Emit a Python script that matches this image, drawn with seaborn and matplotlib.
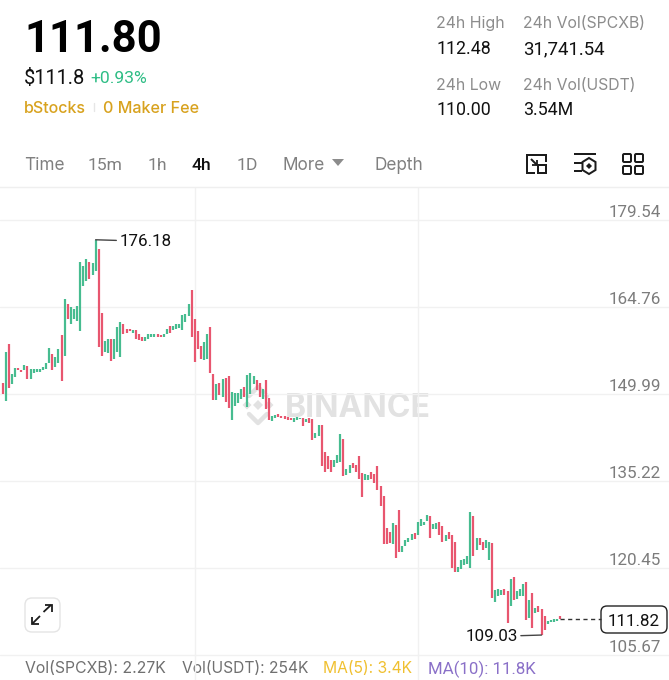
import matplotlib
matplotlib.use("Agg")
import matplotlib.pyplot as plt
from matplotlib.patches import FancyBboxPatch, Polygon, Rectangle
from matplotlib.transforms import ScaledTranslation
import numpy as np
import pandas as pd
import seaborn as sns

sns.set_theme(style="white")
plt.rcParams["font.family"] = ["Inter", "DejaVu Sans"]

# (open, close) prices
opens = [151.8,148.8,158.4,151.7,152.8,154.4,154.1,154.0,154.7,152.6,153.5,153.7,153.8,154.0,154.2,155.2,156.7,154.6,155.3,160.0,
         156.4,165.3,161.9,162.8,162.3,160.6,168.4,169.1,172.4,170.2,170.9,174.6,163.8,157.1,157.0,159.3,155.9,157.1,156.2,161.9,
         161.1,161.1,160.4,160.8,160.1,159.7,159.0,159.3,159.6,159.7,160.1,160.0,159.7,160.1,161.5,160.9,161.1,161.2,160.9,162.2,
         163.2,167.7,162.7,160.6,158.1,155.8,155.9,161.3,153.3,149.0,151.9,149.5,152.7,153.0,145.5,148.0,148.5,149.1,151.1,147.8,
         150.0,151.6,152.3,151.8,149.1,152.4,149.3,145.4,145.9,146.5,146.3,146.3,146.1,145.9,145.2,145.6,145.7,145.9,145.2,145.9,
         145.7,142.5,142.8,144.7,140.2,139.4,138.8,137.5,138.3,138.5,142.4,136.2,136.6,138.2,137.9,139.5,136.5,135.3,135.3,136.8,
         136.4,137.7,134.4,132.7,127.2,126.6,124.5,127.8,130.3,123.2,124.2,124.8,125.2,126.3,126.1,127.6,127.8,128.4,129.2,127.0,
         127.0,128.3,127.6,125.0,126.5,126.0,124.9,119.8,120.3,121.0,121.1,120.4,129.2,123.5,125.5,124.8,123.9,121.7,124.6,114.6,
         115.7,115.9,116.8,116.5,114.0,118.9,115.2,115.7,115.7,118.0,111.9,116.2,112.8,113.9,113.5,112.2,110.9,111.2,111.3,111.4,
         112.2]
closes = [149.9,157.1,151.0,153.3,154.4,154.0,153.7,154.9,152.6,154.2,154.2,154.3,154.3,154.6,155.2,157.8,154.0,156.2,157.6,152.2,
          166.1,162.8,164.8,164.4,165.0,172.4,171.8,172.9,169.5,172.2,176.18,157.9,156.4,159.0,159.3,155.6,159.4,161.4,162.2,160.1,
          160.3,160.6,160.8,159.3,159.2,159.0,159.6,160.2,160.1,160.1,159.7,159.7,160.2,161.1,160.3,161.6,161.8,161.8,163.4,163.6,
          165.3,159.6,155.4,157.7,155.9,158.8,160.1,153.5,149.0,151.6,149.8,152.5,148.6,147.6,150.3,150.1,150.2,150.8,149.5,153.2,
          153.5,153.0,150.6,149.5,150.8,147.4,145.6,146.3,146.4,146.0,145.9,145.7,145.6,145.5,145.9,146.0,145.9,144.5,145.8,145.1,
          142.2,143.3,144.7,137.7,136.8,137.2,136.8,138.8,139.7,143.2,136.1,137.2,138.0,137.4,136.8,135.6,132.4,136.4,136.2,135.6,
          134.8,133.7,130.9,124.5,124.5,124.6,128.0,122.1,123.1,124.2,125.2,125.6,126.2,125.4,128.3,128.7,128.3,129.5,125.6,127.9,
          128.0,126.1,124.9,126.1,125.3,120.4,119.8,120.6,121.7,122.0,122.4,129.9,122.4,125.5,124.4,123.5,125.1,124.8,115.3,116.7,
          116.8,116.7,115.8,111.1,118.5,114.9,116.5,116.8,117.7,111.6,114.9,110.3,113.7,113.0,109.03,109.9,111.5,111.6,111.7,111.8,
          111.82]
price_ticks = [179.54, 164.76, 149.99, 135.22, 120.45, 105.67]
time_grid = [62, 134]
high_label = 176.18
low_label = 109.03
last_price = 111.82
tabs = ["Time", "15m", "1h", "4h", "1D", "More", "Depth"]

W, H = 669, 680
GREEN, RED = "#47BC90", "#E8566F"
px = 0.72  # points per pixel at dpi 100
NUM = ["Roboto", "DejaVu Sans"]

fig = plt.figure(figsize=(W / 100, H / 100), dpi=100, facecolor="white")

# ---------- page furniture, in screen pixels ----------
ui = fig.add_axes([0, 0, 1, 1], zorder=0)
ui.set_xlim(0, W)
ui.set_ylim(H, 0)
ui.axis("off")

def label(x, y, s, size, color="#111111", weight="normal", ha="left", family=None):
    ui.text(x, y, s, fontsize=size * px, color=color, fontweight=weight, ha=ha, va="center_baseline",
            family=family if family else plt.rcParams["font.family"])

label(24, 35, "111.80", 43.6, "#000000", "bold", family=NUM)
label(24, 77, "$111.8", 20, "#111111", family=NUM)
label(90, 77, "+0.93%", 17.5, "#2EBD85", family=NUM)
label(24, 107, "bStocks", 16, "#D8A21E", "medium")
ui.plot([94, 94], [103, 111], color="#e6e6e6", lw=1)
label(103, 107, "0 Maker Fee", 16.2, "#D8A21E", "medium")

GR = "#8C8C8C"
label(436, 22, "24h High", 15.9, GR)
label(523, 22, "24h Vol(SPCXB)", 15.8, GR)
label(436, 47, "112.48", 17.8, family=NUM)
label(523, 47, "31,741.54", 18.6, family=NUM)
label(436, 84, "24h Low", 15.9, GR)
label(523, 84, "24h Vol(USDT)", 15.8, GR)
label(436, 108, "110.00", 17.8, family=NUM)
label(523, 108, "3.54M", 17.8, family=NUM)

tab_x = [24, 88, 148, 192, 237, 283, 374]
for t, x in zip(tabs, tab_x):
    numeric = t[0].isdigit()
    label(x, 164, t, 17.5 if numeric else 17.2, "#111111" if t == "4h" else "#808080",
          "medium" if t == "4h" else "normal", family=NUM if numeric else None)
ui.add_patch(Polygon([[332, 159], [344, 159], [338, 166]], closed=True, fc="#8C8C8C", ec="none"))

IC = "#1c1c1c"
def line(xs, ys, c=IC, lw=2.0):
    ui.plot(xs, ys, color=c, lw=lw * px, solid_capstyle="butt", solid_joinstyle="miter")

# icon 1
line([535, 527, 527, 546, 546], [173, 173, 155, 155, 162])
ui.add_patch(Rectangle((538, 165), 8, 8, fc="none", ec=IC, lw=2 * px))
line([531, 537], [159, 165])
line([531.5, 537, 537], [165, 165, 159.5], lw=1.8)
# icon 2
line([574, 596], [154, 154])
line([574, 582], [163, 163])
line([574, 582], [171, 171])
ui.add_patch(Polygon([[589, 158], [595.5, 162], [595.5, 170], [589, 174], [582.5, 170], [582.5, 162]], closed=True, fc="white", ec=IC, lw=2 * px))
ui.add_patch(Polygon([[589, 163], [592, 166], [589, 169], [586, 166]], closed=True, fc=IC, ec="none"))
# icon 3
for x0 in (623, 635):
    for y0 in (154, 166):
        ui.add_patch(FancyBboxPatch((x0, y0), 8, 8, boxstyle="round,pad=0,rounding_size=1.2", fc="none", ec=IC, lw=2 * px))

# watermark
WM = "#E2E2E2"
cx, cy = 258, 405
for dx, dy, r in [(-11, 0, 4.5), (11, 0, 4.5), (0, 0, 5)]:
    ui.add_patch(Polygon([[cx + dx, cy + dy - r], [cx + dx + r, cy + dy], [cx + dx, cy + dy + r], [cx + dx - r, cy + dy]], closed=True, fc=WM, ec="none"))
ui.plot([cx - 9, cx, cx + 9], [cy - 9, cy - 18, cy - 9], color=WM, lw=3.2)
ui.plot([cx - 9, cx, cx + 9], [cy + 9, cy + 18, cy + 9], color=WM, lw=3.2)
label(285, 405, "BINANCE", 32, WM, "bold")

# fullscreen button
ui.add_patch(FancyBboxPatch((25, 598), 35, 34, boxstyle="round,pad=0,rounding_size=7", fc="white", ec="#E4E4E4", lw=1.0))
line([43.5, 51], [612, 605], lw=1.8)
line([44.5, 51.5, 51.5], [604.5, 604.5, 611.5], lw=1.8)
line([40, 32.5], [616, 623.5], lw=1.8)
line([32, 32, 39], [616.5, 624, 624], lw=1.8)

# bottom strip
label(25, 667, "Vol(SPCXB): 2.27K", 15.8, "#707070")
label(182, 667, "Vol(USDT): 254K", 15.6, "#707070")
label(323, 667, "MA(5): 3.4K", 15.6, "#F0C030")
label(428, 667, "MA(10): 11.8K", 16.8, "#8A70C8", family=NUM)

# price box
ui.add_patch(FancyBboxPatch((601, 606), 66, 27, boxstyle="round,pad=0,rounding_size=6", fc="white", ec="#222222", lw=1.0))
label(634, 620, "111.82", 17, "#111111", ha="center", family=NUM)

# ---------- chart ----------
TOP, BOT = 187, 680
PX_PER_BAR, X0 = 3.097, 2.7
PX_PER_PRICE = 87 / (price_ticks[0] - price_ticks[1])
ax = fig.add_axes([0, 1 - BOT / H, 1, (BOT - TOP) / H], zorder=1)
ax.patch.set_alpha(0)
ax.set_xlim(-X0 / PX_PER_BAR, (W - X0) / PX_PER_BAR)
ax.set_ylim(price_ticks[0] - (BOT - 220) / PX_PER_PRICE, price_ticks[0] + (220 - TOP) / PX_PER_PRICE)

n = len(opens)
idx = np.arange(n)
up = np.array(closes) >= np.array(opens)
df = pd.DataFrame({"bar": np.r_[idx, idx], "price": np.r_[opens, closes], "dir": np.r_[up, up]})
df["dir"] = df["dir"].map({True: "up", False: "down"})
sns.lineplot(data=df, x="bar", y="price", hue="dir", units="bar", estimator=None, sort=False,
             palette={"up": GREEN, "down": RED}, linewidth=2.2 * px, legend=False, ax=ax,
             solid_capstyle="butt")

ax.set_xlabel("")
ax.set_ylabel("")
ax.set_xticks(time_grid)
ax.set_xticklabels([])
ax.set_yticks(price_ticks)
ax.set_yticklabels([f"{p:.2f}" for p in price_ticks])
ax.yaxis.tick_right()
ax.tick_params(axis="both", length=0)
ax.tick_params(axis="y", pad=-8 * px, labelsize=17 * px, labelcolor="#7C7C7C")
shift = ScaledTranslation(0, 9 / 100, fig.dpi_scale_trans)
for t in ax.get_yticklabels():
    t.set_ha("right")
    t.set_family(NUM)
    t.set_transform(t.get_transform() + shift)
ax.grid(True, color="#F1F1F1", lw=1.0)
ax.set_axisbelow(True)
for s in ("left", "right", "bottom"):
    ax.spines[s].set_visible(False)
ax.spines["top"].set_color("#EFEFEF")
ax.spines["top"].set_linewidth(1.0)

ax.annotate(f"{high_label:.2f}", xy=(30, high_label), xytext=(24 * px, 0), textcoords="offset points",
            va="center_baseline", ha="left", fontsize=17 * px, color="#111111", family=NUM,
            arrowprops=dict(arrowstyle="-", color="#444444", lw=1.0, shrinkA=0, shrinkB=0))
ax.annotate(f"{low_label:.2f}", xy=(174, low_label), xytext=(-24 * px, 0), textcoords="offset points",
            va="center_baseline", ha="right", fontsize=17 * px, color="#111111", family=NUM,
            arrowprops=dict(arrowstyle="-", color="#444444", lw=1.0, shrinkA=0, shrinkB=0))
ax.hlines(last_price, n - 1, (601 - X0) / PX_PER_BAR, color="#333333", lw=1.0, linestyles=(0, (3, 2.5)))

fig.savefig("out.png", dpi=100)
